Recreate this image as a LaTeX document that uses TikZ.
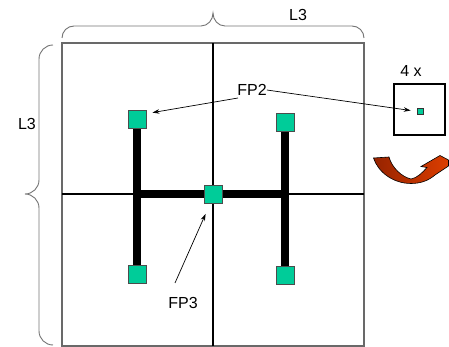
\documentclass[tikz,border=0pt]{standalone}
\usepackage{fontspec}
\setmainfont{Liberation Sans}
\usetikzlibrary{calc,arrows.meta}
\definecolor{fpgreen}{RGB}{0,204,153}
\definecolor{framegray}{RGB}{105,105,105}
\definecolor{bracegray}{RGB}{115,115,115}
\definecolor{arrowdark}{RGB}{150,35,0}
\definecolor{arrowlight}{RGB}{220,62,0}
\pgfdeclarelayer{bg}
\pgfsetlayers{bg,main}
\begin{document}
\begin{tikzpicture}[x=1pt,y=-1pt,
  pad/.style={draw=black!70,fill=fpgreen,minimum size=18pt,inner sep=0pt,line width=0.8pt},
  minipad/.style={draw=black!80,fill=fpgreen,minimum size=6pt,inner sep=0pt,line width=0.6pt},
  lbl/.style={font=\fontsize{16}{19}\selectfont,inner sep=0pt},
  ptr/.style={-{Stealth[length=7pt,width=4.5pt]},line width=0.7pt},
  bar/.style={line width=8pt},
  brace/.style={draw=bracegray,line width=0.9pt},
  midline/.style={line width=1.2pt},
  frame/.style={draw=framegray,line width=1.3pt}]
\useasboundingbox (0,0) rectangle (449,347);

% outer square and its two centre lines
\draw[frame] (62,43) rectangle (364,346);
\draw[midline] (213,43) -- (213,346);
\draw[midline] (62,194) -- (364,194);

% top brace (angles are page directions)
\draw[brace] (62,38) to[out=90,in=180] (74,26) -- (201,26)
  to[out=0,in=-90] (213,13) to[out=-90,in=180] (225,26) -- (352,26)
  to[out=0,in=90] (364,38);
% left brace
\draw[brace] (53,45) to[out=180,in=90] (39,59) -- (39,180)
  to[out=-90,in=0] (25,194) to[out=0,in=90] (39,208) -- (39,331)
  to[out=-90,in=180] (53,345);

\node[lbl] (l3top) at (298,15) {L3};
\node[lbl] (l3left) at (27,124) {L3};

% pads of the H tree
\node[pad] (tl) at (137,119) {};
\node[pad] (tr) at (285,122) {};
\node[pad] (c)  at (213,194.5) {};
\node[pad] (bl) at (137,274) {};
\node[pad] (br) at (285,275) {};

% thick wires of the H
\begin{pgfonlayer}{bg}
\draw[bar] (tl.center) -- (bl.center);
\draw[bar] (tr.center) -- (br.center);
\draw[bar] (tl.center |- c.center) -- (tr.center |- c.center);
\end{pgfonlayer}

% magnified view
\node[draw,line width=1.1pt,minimum size=51pt,inner sep=0pt] (zoombox) at (419.5,109.5) {};
\node[minipad] (mini) at (420,111.5) {};
\node[lbl] (times) at (411,71) {4 x};

% labels and pointers
\node[lbl] (fp2) at (252,90) {FP2};
\node[lbl] (fp3) at (183,303) {FP3};
\coordinate (fp2a) at (238,98);
\coordinate (fp3a) at (175,283);
\draw[ptr] (fp2a) -- ($(tl.north east)+(6,3)$);
\draw[ptr] (fp2.east) -- ($(mini.west)+(-6,-1)$);
\draw[ptr] (fp3a) -- ($(c.south west)+(2,10)$);

% curved red arrow
\draw[line width=0.6pt,left color=arrowdark,right color=arrowlight]
  (373.5,158) -- (389,157)
  .. controls (392,168) and (402,177) .. (411,179)
  .. controls (417,178) and (422,173) .. (427,167.5)
  -- (421,166.5) -- (440,155.5) -- (448.5,160) -- (448.5,166) -- (435,175)
  .. controls (428,181) and (420,183.5) .. (411,183.5)
  .. controls (393,183.5) and (378,172) .. (373.5,158) -- cycle;
\end{tikzpicture}
\end{document}
